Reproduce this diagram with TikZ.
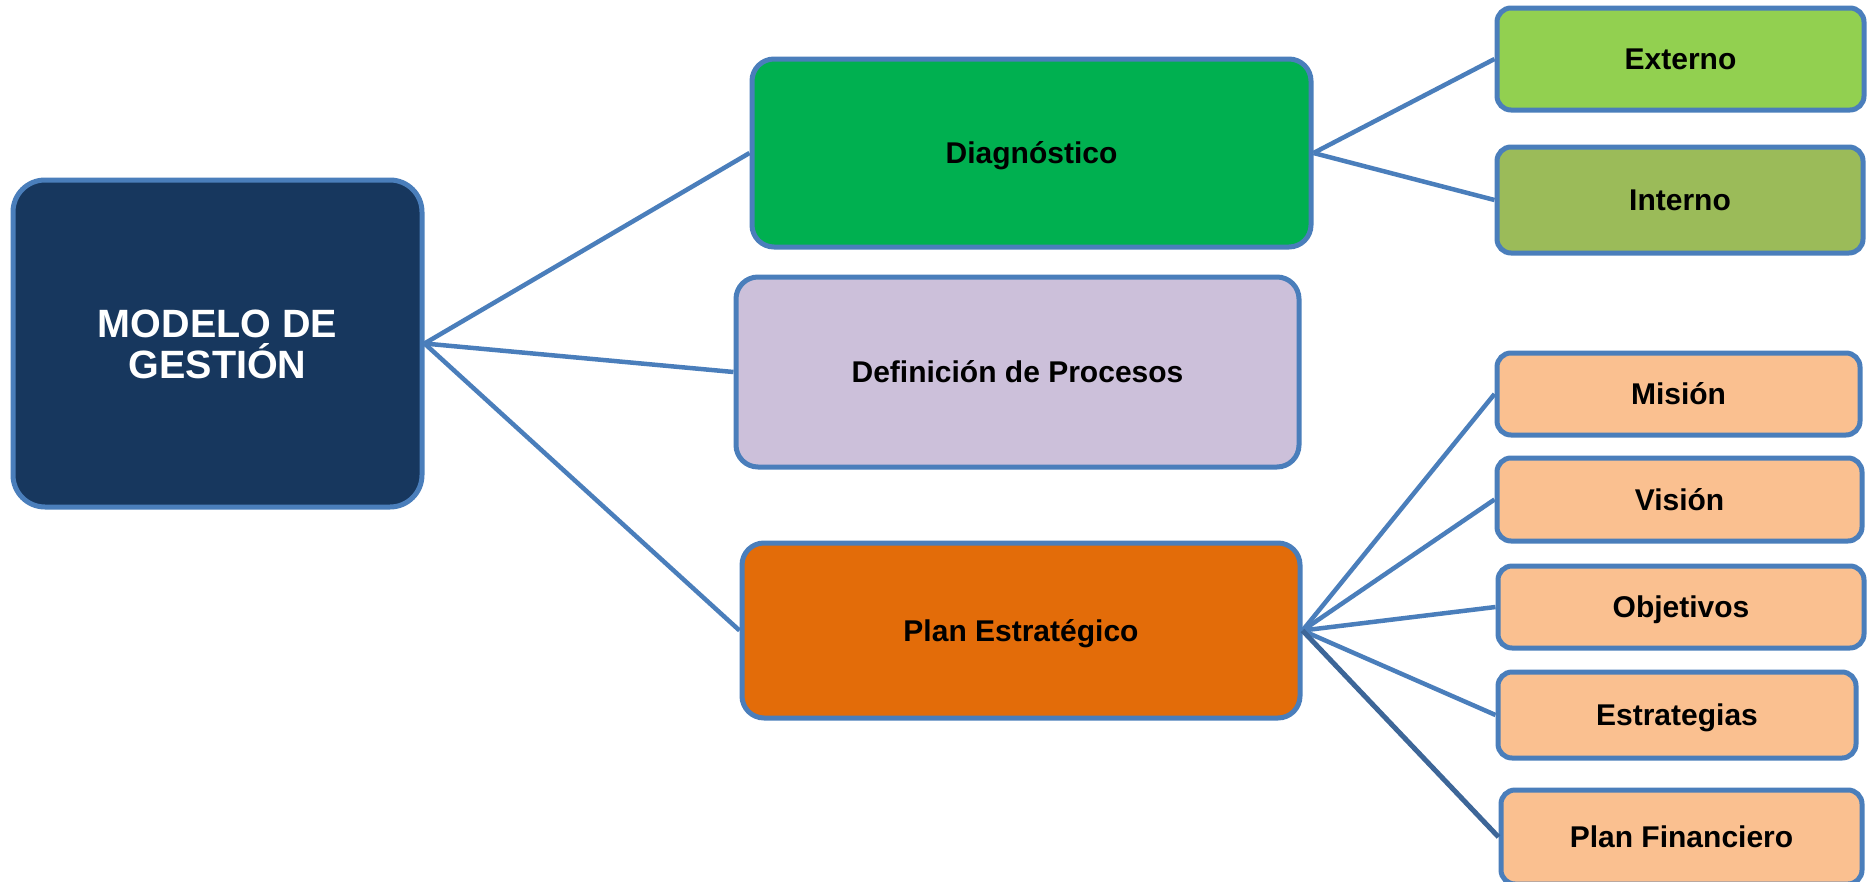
\documentclass[tikz,border=0pt]{standalone}
\usepackage{fontspec}
\setmainfont{Liberation Sans}
\definecolor{edge}{HTML}{4A7EBB}
\definecolor{edgedark}{HTML}{3D6698}
\definecolor{navy}{HTML}{17375E}
\definecolor{green1}{HTML}{00B050}
\definecolor{lilac}{HTML}{CCC0DA}
\definecolor{orange1}{HTML}{E36C09}
\definecolor{lightgreen}{HTML}{92D050}
\definecolor{olive}{HTML}{9BBB59}
\definecolor{peach}{HTML}{FAC090}
\begin{document}
\begin{tikzpicture}[x=1pt,y=-1pt,
  box/.style={draw=edge, line width=5pt, rounded corners=#1, inner sep=0pt,
    font=\fontsize{30}{36}\selectfont\bfseries, text height=21.5pt, text depth=0pt},
  box/.default=20pt,
  link/.style={draw=edge, line width=4.5pt},
  darklink/.style={draw=edgedark, line width=5pt}]
\clip (0,0) rectangle (1868,881);
\fill[white] (0,0) rectangle (1868,881);
% main
\node[box=32pt, fill=navy, text=white, minimum width=409pt, minimum height=327pt,
  font=\fontsize{39.5}{41}\selectfont\bfseries, align=center, text height=69pt, text depth=0pt]
  (main) at (217.5,343.5) {MODELO DE\\GESTIÓN};
% level 1
\node[box=22pt, fill=green1, minimum width=559pt, minimum height=188pt] (diag) at (1031.5,153) {Diagnóstico};
\node[box=22pt, fill=lilac, minimum width=563pt, minimum height=190pt] (defi) at (1017.5,372) {Definición de Procesos};
\node[box=22pt, fill=orange1, minimum width=558pt, minimum height=175pt] (plan) at (1021,630.5) {Plan Estratégico};
% level 2
\node[box=14pt, fill=lightgreen, minimum width=367pt, minimum height=102pt] (ext) at (1680.5,59) {Externo};
\node[box=14pt, fill=olive, minimum width=366pt, minimum height=106pt] (int) at (1680,200) {Interno};
\node[box=14pt, fill=peach, minimum width=363pt, minimum height=82pt] (mis) at (1678.5,394) {Misión};
\node[box=14pt, fill=peach, minimum width=365pt, minimum height=83pt] (vis) at (1679.5,499.5) {Visión};
\node[box=14pt, fill=peach, minimum width=366pt, minimum height=82pt] (obj) at (1681,607) {Objetivos};
\node[box=14pt, fill=peach, minimum width=358pt, minimum height=86pt] (est) at (1677,715) {Estrategias};
\node[box=14pt, fill=peach, minimum width=361pt, minimum height=94pt] (pf) at (1681.5,837) {Plan Financiero};
% connectors
\draw[link] (main.east) -- (diag.west);
\draw[link] (main.east) -- (defi.west);
\draw[link] (main.east) -- (plan.west);
\draw[link] (diag.east) -- (ext.west);
\draw[link] (diag.east) -- (int.west);
\draw[link] (plan.east) -- (mis.west);
\draw[link] (plan.east) -- (vis.west);
\draw[link] (plan.east) -- (obj.west);
\draw[link] (plan.east) -- (est.west);
\draw[darklink] (plan.east) -- (pf.west);
\end{tikzpicture}
\end{document}
